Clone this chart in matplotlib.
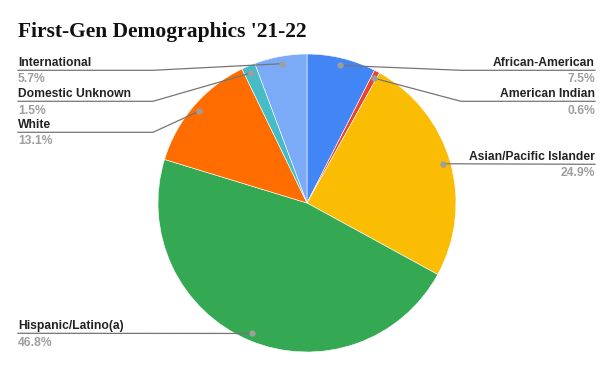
import numpy as np
import matplotlib.pyplot as plt

# data
groups = ["African-American", "American Indian", "Asian/Pacific Islander",
          "Hispanic/Latino(a)", "White", "Domestic Unknown", "International"]
shares = [7.5, 0.6, 24.9, 46.8, 13.1, 1.5, 5.7]
colors = ["#4285F4", "#EA4335", "#FBBC04", "#34A853", "#FF6D01", "#46BDC6", "#7BAAF7"]

# layout in pixels (top-left origin): side, label baseline, bend x
label_layout = {
    "African-American": ("right", 66, 461),
    "American Indian": ("right", 97, 461),
    "Asian/Pacific Islander": ("right", 160, 461),
    "Hispanic/Latino(a)": ("left", 329, 153),
    "White": ("left", 128, 153),
    "Domestic Unknown": ("left", 97, 153),
    "International": ("left", 66, 153),
}

W, H = 614, 371
cx, cy, R = 307, 203, 149

def py(y):
    return H - y

fig = plt.figure(figsize=(W / 100, H / 100), dpi=100)
ax = fig.add_axes([0, 0, 1, 1])
ax.set_xlim(0, W)
ax.set_ylim(0, H)
ax.set_aspect("equal")
ax.axis("off")

wedges, _ = ax.pie(shares, colors=colors, startangle=90, counterclock=False,
                   center=(cx, py(cy)), radius=R,
                   wedgeprops=dict(edgecolor="white", linewidth=0.4))
ax.set_xlim(0, W)
ax.set_ylim(0, H)

fig.text(18 / W, 1 - 37 / H, "First-Gen Demographics '21-22", fontsize=15.5,
         fontweight="bold", family="Liberation Serif", color="#111111", va="baseline")

for name, val, w in zip(groups, shares, wedges):
    side, base, bend = label_layout[name]
    ang = np.deg2rad((w.theta1 + w.theta2) / 2)
    dx = cx + 0.95 * R * np.cos(ang)
    dy = py(cy) + 0.95 * R * np.sin(ang)
    line_y = py(base + 4.3)
    if side == "left":
        xs = [18, bend, dx]
        tx, ha = 18, "left"
    else:
        xs = [595, bend, dx]
        tx, ha = 595, "right"
    if abs(line_y - dy) < 3:
        xs = [xs[0], dx]
        ys = [line_y, dy]
    else:
        ys = [line_y, line_y, dy]
    ax.plot(xs, ys, color="#757575", lw=0.9, zorder=3)
    ax.plot(dx, dy, "o", color="#9E9E9E", ms=3.5, zorder=4)
    ax.text(tx, py(base), name, ha=ha, va="baseline", fontsize=8.7,
            fontweight="bold", family="Liberation Sans", color="#222222")
    ax.text(tx, py(base + 16.5), f"{val}%", ha=ha, va="baseline", fontsize=8.7,
            fontweight="bold", family="Liberation Sans", color="#9E9E9E")

fig.savefig("out.png", dpi=100, facecolor="white")
